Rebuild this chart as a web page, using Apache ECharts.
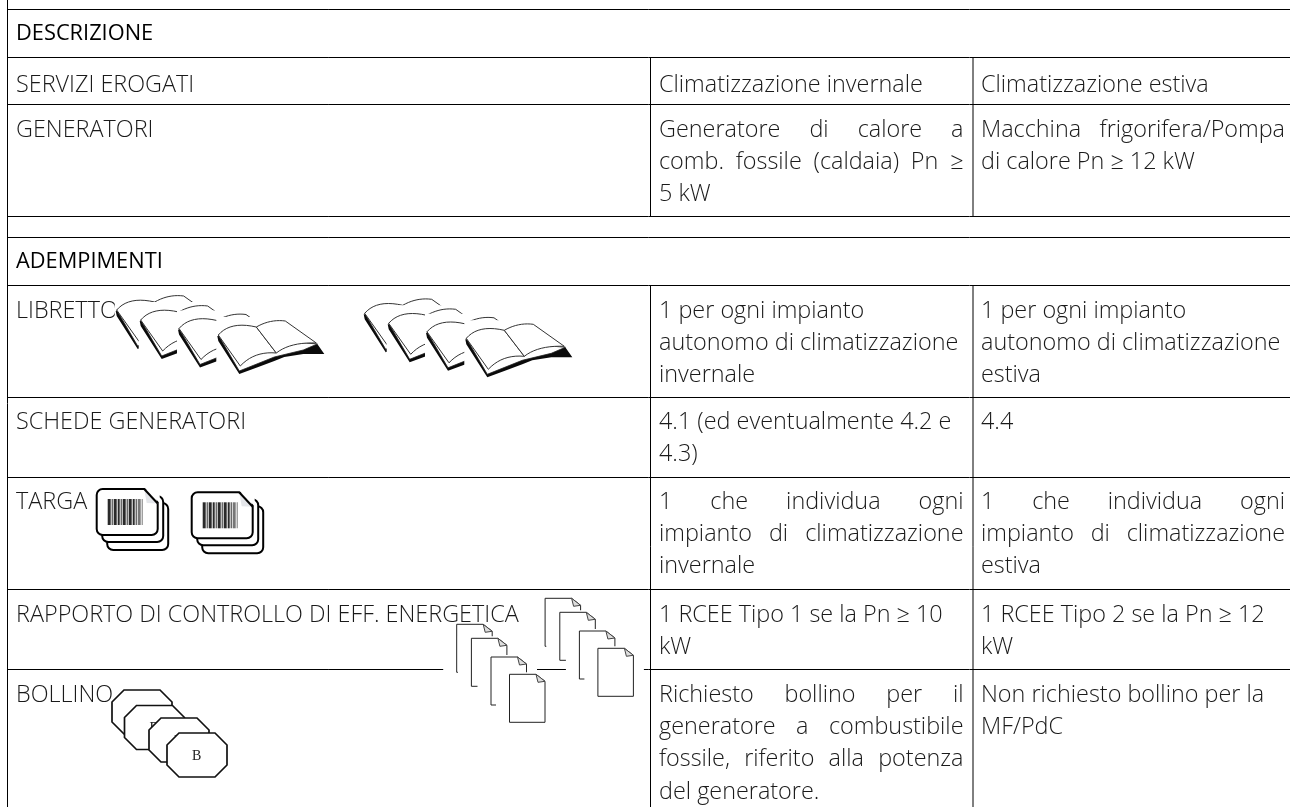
<!DOCTYPE html>
<html>
<head>
<meta charset="utf-8">
<title>Adempimenti</title>
<script src="https://cdn.jsdelivr.net/npm/echarts@6/dist/echarts.min.js"></script>
<style>
  html, body { margin: 0; padding: 0; background: #fff; }
  #chart { width: 1290px; height: 807px; }
</style>
</head>
<body>
<div id="chart"></div>
<script>
// Table content. "|" at the start of a line marks it as justified.
const headers = ["DESCRIZIONE", "ADEMPIMENTI"];
const rowLabels = ["SERVIZI EROGATI", "GENERATORI", "LIBRETTO", "SCHEDE GENERATORI", "TARGA",
  "RAPPORTO DI CONTROLLO DI EFF. ENERGETICA", "BOLLINO"];
const winterCells = [
  ["Climatizzazione invernale"],
  ["|Generatore di calore a", "|comb. fossile (caldaia) Pn ≥", "5 kW"],
  ["1 per ogni impianto", "autonomo di climatizzazione", "invernale"],
  ["4.1 (ed eventualmente 4.2 e", "4.3)"],
  ["|1 che individua ogni", "|impianto di climatizzazione", "invernale"],
  ["1 RCEE Tipo 1 se la Pn ≥ 10", "kW"],
  ["|Richiesto bollino per il", "|generatore a combustibile", "|fossile, riferito alla potenza", "del generatore."]
];
const summerCells = [
  ["Climatizzazione estiva"],
  ["|Macchina frigorifera/Pompa", "di calore Pn ≥ 12 kW"],
  ["1 per ogni impianto", "autonomo di climatizzazione", "estiva"],
  ["4.4"],
  ["|1 che individua ogni", "|impianto di climatizzazione", "estiva"],
  ["1 RCEE Tipo 2 se la Pn ≥ 12", "kW"],
  ["Non richiesto bollino per la", "MF/PdC"]
];

// Layout
const hLines = [9.5, 57.5, 104.5, 216.5, 237.5, 285.5, 397.5, 477.5, 589.5, 669.5];
const headerY = [34, 262];
const rowY = [85, 130, 311, 422, 502, 615, 695];
const LINE_STEP = 32.4;
const COL = { left: 16, winter: 659, winterEnd: 963.5, summer: 981, summerEnd: 1285 };
const FONT_LIGHT = { family: "Open Sans", weight: 300, size: 23.4 };
const FONT_HEAD = { family: "Open Sans", weight: 500, size: 21.8 };

const elements = [];
const measure = document.createElement("canvas").getContext("2d");

function addText(text, x, y, font, fill) {
  elements.push({
    type: "text", x: x, y: y,
    style: { text: text, fontFamily: font.family, fontWeight: font.weight, fontSize: font.size,
      fill: fill || "#1a1a1a", textVerticalAlign: "middle", textAlign: "left" }
  });
}

function addLine(x1, y1, x2, y2, color, width) {
  elements.push({
    type: "line", shape: { x1: x1, y1: y1, x2: x2, y2: y2 },
    style: { stroke: color || "#000", lineWidth: width || 1 }
  });
}

function addPoly(points, fill, stroke, width) {
  elements.push({
    type: "polygon", shape: { points: points },
    style: { fill: fill, stroke: stroke || null, lineWidth: width || 1 }
  });
}

function addOpen(points, stroke, width) {
  elements.push({
    type: "polyline", shape: { points: points },
    style: { fill: null, stroke: stroke, lineWidth: width || 1 }
  });
}

function addRect(x, y, w, h, fill, stroke, width, r) {
  elements.push({
    type: "rect", shape: { x: x, y: y, width: w, height: h, r: r || 0 },
    style: { fill: fill, stroke: stroke || null, lineWidth: width || 1 }
  });
}

// Single line of a cell; justified lines get their words spread to the column edge
function addCellLine(line, x, xEnd, y) {
  const justify = line[0] === "|";
  const text = justify ? line.slice(1) : line;
  if (!justify) {
    addText(text, x, y, FONT_LIGHT);
    return;
  }
  measure.font = FONT_LIGHT.weight + " " + FONT_LIGHT.size + "px " + FONT_LIGHT.family;
  const words = text.split(" ");
  const widths = words.map((w) => measure.measureText(w).width);
  const total = widths.reduce((a, b) => a + b, 0);
  const gap = (xEnd - x - total) / (words.length - 1);
  let cursor = x;
  words.forEach((w, i) => {
    addText(w, cursor, y, FONT_LIGHT);
    cursor += widths[i] + gap;
  });
}

function addCell(lines, x, xEnd, y) {
  lines.forEach((line, i) => addCellLine(line, x, xEnd, y + i * LINE_STEP));
}

// Icons
function curve(p0, c, p1) {
  const pts = [];
  for (let i = 0; i <= 10; i++) {
    const t = i / 10;
    pts.push([
      (1 - t) * (1 - t) * p0[0] + 2 * t * (1 - t) * c[0] + t * t * p1[0],
      (1 - t) * (1 - t) * p0[1] + 2 * t * (1 - t) * c[1] + t * t * p1[1]
    ]);
  }
  return pts;
}

function addBook(x, y) {
  const at = (dx, dy) => [x + dx, y + dy];
  addRect(x - 2, y - 18, 112, 62, "#fff");
  // black edge of the cover, then the cover itself, then the two pages
  addPoly([at(-1, 1), at(0, 6), at(21, 39), at(40, 32), at(56, 26), at(66, 22), at(85, 19), at(106, 19), at(99, 9)], "#0a0a0a");
  addPoly([at(0, 0), at(21, 36), at(56, 22), at(85, 15), at(99, 9)], "#fff", "#222", 0.8);
  const leftPage = curve(at(0, 0), at(12, -14), at(38, -8))
    .concat(curve(at(58, 18), at(36, 16), at(22, 31)));
  addPoly(leftPage, "#fff", "#333", 1);
  const rightPage = curve(at(38, -8), at(52, -16), at(67, -14))
    .concat(curve(at(98, 8), at(72, 7), at(58, 18)));
  addPoly(rightPage, "#fff", "#333", 1);
}

const BAR_WIDTHS = [3, 1, 1, 1, 3, 1, 2, 1, 1, 1, 3, 1, 1, 1, 3, 1, 2, 1, 1, 1, 3, 1, 1, 2];

function addBarcodeCard(x, y) {
  addRect(x + 10.5, y + 14, 61, 47, "#fff", "#000", 2, 6);
  addRect(x + 5.5, y + 7, 61, 46, "#fff", "#000", 2, 6);
  addRect(x, y, 61, 46, "#fff", "#000", 2, 6);
  addPoly([[x + 47, y - 2], [x + 63, y - 2], [x + 63, y + 14]], "#fff");
  addPoly([[x + 47.5, y], [x + 61, y + 14.5], [x + 50, y + 14]], "#e4e6ea");
  addOpen([[x + 47.5, y], [x + 61, y + 14.5]], "#000", 2);
  let bx = x + 11;
  BAR_WIDTHS.forEach((w, i) => {
    if (i % 2 === 0) addRect(bx, y + 10, w, 26, i > 19 ? "#777" : "#2a2a2a");
    bx += w;
  });
}

function addPage(x, y) {
  const W = 35.5, H = 48;
  addRect(x - 13.5, y - 2, 59.5, H + 2, "#fff");
  addOpen([[x, y + H], [x + W, y + H], [x + W, y + 7], [x + W - 9, y], [x, y], [x, y + H]], "#222", 1);
  addPoly([[x + W - 9, y], [x + W, y + 7], [x + W - 7, y + 8]], "#ddd", "#444", 1);
}

function addOctagon(x, y, label) {
  const W = 60, H = 44, C = 12;
  addPoly([[x + C, y], [x + W - C, y], [x + W, y + C], [x + W, y + H - C], [x + W - C, y + H],
    [x + C, y + H], [x, y + H - C], [x, y + C]], "#fff", "#111", 1.7);
  addText(label, x + 25, y + 23, { family: "Liberation Serif", weight: 400, size: 14 }, "#222");
}

// --- build ---
headers.forEach((h, i) => addText(h, COL.left, headerY[i], FONT_HEAD, "#000"));
rowLabels.forEach((label, i) => {
  addText(label, COL.left, rowY[i], FONT_LIGHT);
  addCell(winterCells[i], COL.winter, COL.winterEnd, rowY[i]);
  addCell(summerCells[i], COL.summer, COL.summerEnd, rowY[i]);
});

hLines.forEach((y) => addLine(7.5, y, 1290, y));
addLine(7.5, 0, 7.5, 807);
[650.5, 973].forEach((x) => {
  addLine(x, 57.5, x, 216.5);
  addLine(x, 285.5, x, 807);
});

[[0, 0], [248, 3.3]].forEach((o) => {
  [[116.7, 310], [140.7, 320], [179, 328.5], [218.3, 335]].forEach((p) => addBook(p[0] + o[0], p[1] + o[1]));
});
[[96.7, 489], [191.7, 492.3]].forEach((p) => addBarcodeCard(p[0], p[1]));
[[112, 690], [124.5, 705.5], [149, 718], [167, 733]].forEach((p) => addOctagon(p[0], p[1], "B"));
[[0, 0], [88.4, -26]].forEach((o) => {
  [[456.7, 624.3], [471.4, 638.3], [491, 657], [509.5, 674.3]].forEach((p) => addPage(p[0] + o[0], p[1] + o[1]));
});

const chart = echarts.init(document.getElementById("chart"));
chart.setOption({
  animation: false,
  backgroundColor: "#fff",
  graphic: { elements: elements }
});
</script>
</body>
</html>
